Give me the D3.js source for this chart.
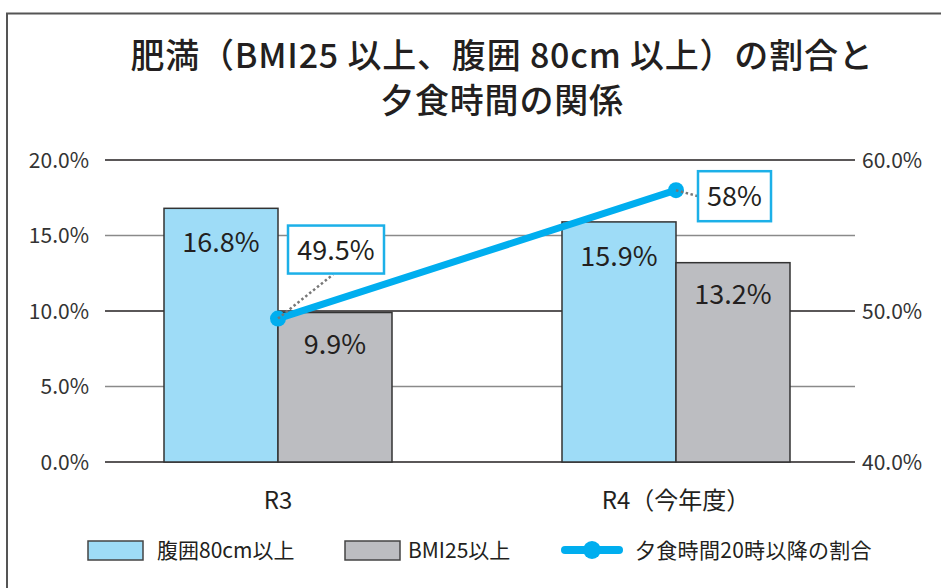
<!DOCTYPE html>
<html><head><meta charset="utf-8">
<script src="https://cdn.jsdelivr.net/npm/d3@7"></script>
<style>
html,body{margin:0;padding:0;background:#fff;}
svg{display:block;font-family:"Noto Sans CJK JP","Noto Sans",sans-serif;}
</style></head>
<body><svg id="c" width="941" height="588"></svg>
<script>
const titleLines = ["肥満（BMI25 以上、腹囲 80cm 以上）の割合と", "夕食時間の関係"];
const categories = ["R3", "R4（今年度）"];
const seriesNames = ["腹囲80cm以上", "BMI25以上"];
const waist = [16.8, 15.9];
const bmi = [9.9, 13.2];
const lineName = "夕食時間20時以降の割合";
const dinnerLate = [49.5, 58];
const dinnerLabels = ["49.5%", "58%"];
const leftTicks = [0, 5, 10, 15, 20];
const rightTicks = [40, 50, 60];

const svg = d3.select("#c");
const barColors = ["#9edcf7", "#bcbdc1"];
const lineColor = "#00aeef";

// frame
svg.append("path").attr("d","M7,941 V13.5 H941").attr("fill","none").attr("stroke","#555").attr("stroke-width",2);

// title
svg.append("g").selectAll("text").data(titleLines).join("text")
  .attr("x", 502).attr("y", (d,i)=>68+i*45).attr("text-anchor","middle")
  .attr("font-size", 34).attr("font-weight", 500).attr("letter-spacing", 0.8)
  .attr("fill","#231f20").text(d=>d);

const y = d3.scaleLinear().domain([0,20]).range([462,160]);
const y2 = d3.scaleLinear().domain([40,60]).range([462,160]);
const x0 = d3.scaleBand().domain(categories).range([79,875]);
const groupW = 228;
const x1 = d3.scaleBand().domain(seriesNames).range([0,groupW]);
const gx = c => x0(c) + (x0.bandwidth()-groupW)/2;

// gridlines
const gl = svg.append("g").attr("class","grid");
gl.selectAll("line").data(leftTicks).join("line")
  .attr("x1",105).attr("x2",855).attr("y1",d=>y(d)).attr("y2",d=>y(d))
  .attr("stroke",d=>d%10===0?"#231f20":"#8a8a8a").attr("stroke-width",1.5);

// left axis
const yAxis = d3.axisLeft(y).tickValues(leftTicks).tickFormat(d=>d3.format(".1f")(d)+"%").tickSize(0).tickPadding(0);
const ga = svg.append("g").attr("transform","translate(89,0)").call(yAxis);
ga.select(".domain").remove();
ga.selectAll("text").attr("font-size",21).attr("fill","#333").attr("font-family","'Noto Sans CJK JP',sans-serif").attr("dy","0.35em");

const yAxisR = d3.axisRight(y2).tickValues(rightTicks).tickFormat(d=>d3.format(".1f")(d)+"%").tickSize(0).tickPadding(0);
const gr = svg.append("g").attr("transform","translate(862,0)").call(yAxisR);
gr.select(".domain").remove();
gr.selectAll("text").attr("font-size",21).attr("fill","#333").attr("font-family","'Noto Sans CJK JP',sans-serif").attr("dy","0.35em");

// bars
const barData = [];
categories.forEach((c,i)=>{
  barData.push({c, s:seriesNames[0], v:waist[i], k:0});
  barData.push({c, s:seriesNames[1], v:bmi[i], k:1});
});
const bars = svg.append("g");
bars.selectAll("rect").data(barData).join("rect")
  .attr("x",d=>gx(d.c)+x1(d.s)).attr("width",x1.bandwidth())
  .attr("y",d=>y(d.v)).attr("height",d=>y(0)-y(d.v))
  .attr("fill",d=>barColors[d.k]).attr("stroke","#333").attr("stroke-width",1.5);
bars.selectAll("text").data(barData).join("text")
  .attr("x",d=>gx(d.c)+x1(d.s)+x1.bandwidth()/2)
  .attr("y",d=>y(d.v)+(d.k===0?44:41)).attr("text-anchor","middle")
  .attr("font-size",27).attr("fill","#231f20").text(d=>d.v.toFixed(1)+"%");

// x labels
svg.append("g").selectAll("text").data(categories).join("text")
  .attr("x",d=>gx(d)+groupW/2).attr("y",509).attr("text-anchor","middle")
  .attr("font-size",24).attr("fill","#231f20").text(d=>d);

// line
const pts = categories.map((c,i)=>({x:gx(c)+groupW/2, y:y2(dinnerLate[i]), lab:dinnerLabels[i], i}));
const boxes = [
  {dx:10, dy:-93, w:96, h:48, lx:55, ly:-44},
  {dx:22, dy:-19, w:73, h:50, lx:22, ly:6}
];
const cg = svg.append("g");
pts.forEach((p,i)=>{
  const b = boxes[i];
  cg.append("line").attr("x1",p.x).attr("y1",p.y).attr("x2",p.x+b.lx).attr("y2",p.y+b.ly)
    .attr("stroke","#777").attr("stroke-width",2.5).attr("stroke-dasharray","2.5,2.5");
});
svg.append("path").datum(pts).attr("fill","none").attr("stroke",lineColor).attr("stroke-width",7)
  .attr("stroke-linecap","round")
  .attr("d", d3.line().x(d=>d.x).y(d=>d.y));
svg.append("g").selectAll("circle").data(pts).join("circle")
  .attr("cx",d=>d.x).attr("cy",d=>d.y).attr("r",8).attr("fill",lineColor);
pts.forEach((p,i)=>{
  const b = boxes[i];
  cg.append("rect").attr("x",p.x+b.dx).attr("y",p.y+b.dy).attr("width",b.w).attr("height",b.h)
    .attr("fill","#fff").attr("stroke","#1cb0e8").attr("stroke-width",2.5);
  cg.append("text").attr("x",p.x+b.dx+b.w/2).attr("y",p.y+b.dy+b.h/2+10).attr("text-anchor","middle")
    .attr("font-size",27).attr("fill","#231f20").text(p.lab);
});
cg.raise();

// legend
const lg = svg.append("g");
lg.append("rect").attr("x",88).attr("y",541).attr("width",55).attr("height",19).attr("fill",barColors[0]).attr("stroke","#444").attr("stroke-width",1.5);
lg.append("text").attr("x",157).attr("y",558).attr("font-size",21).attr("fill","#231f20").text(seriesNames[0]);
lg.append("rect").attr("x",345).attr("y",541).attr("width",55).attr("height",19).attr("fill",barColors[1]).attr("stroke","#444").attr("stroke-width",1.5);
lg.append("text").attr("x",408).attr("y",558).attr("font-size",21).attr("fill","#231f20").text(seriesNames[1]);
lg.append("line").attr("x1",565).attr("x2",619).attr("y1",550).attr("y2",550).attr("stroke",lineColor).attr("stroke-width",8).attr("stroke-linecap","round");
lg.append("circle").attr("cx",592).attr("cy",550).attr("r",9).attr("fill",lineColor);
lg.append("text").attr("x",635).attr("y",558).attr("font-size",21).attr("letter-spacing",0.3).attr("fill","#231f20").text(lineName);
</script></body></html>
